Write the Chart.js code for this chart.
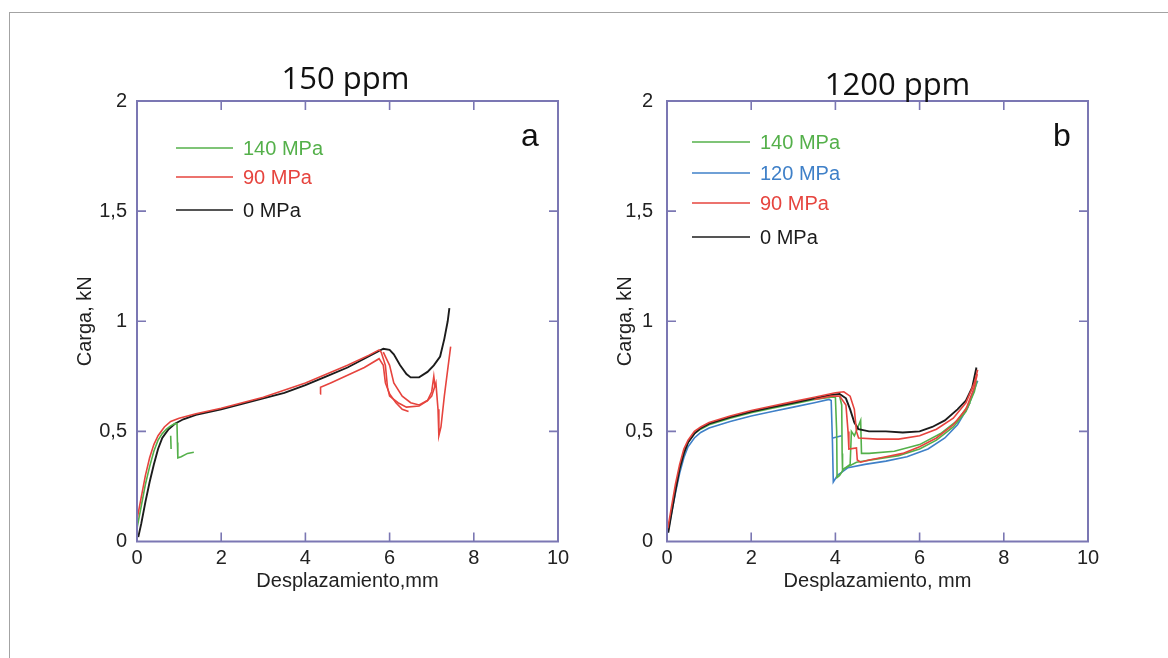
<!DOCTYPE html>
<html>
<head>
<meta charset="utf-8">
<script src="https://cdn.jsdelivr.net/npm/chart.js@4.4.1/dist/chart.umd.min.js"></script>
<style>
html, body { margin: 0; padding: 0; background: #fff; }
body { width: 1168px; height: 658px; position: relative; overflow: hidden; }
.frame { position: absolute; left: 9px; top: 12px; width: 1300px; height: 800px;
         border-top: 1.5px solid #a3a3a3; border-left: 1.5px solid #a3a3a3; }
#boxA { position: absolute; left: 0; top: 0; }
#boxB { position: absolute; left: 584px; top: 0; }
</style>
</head>
<body>
<div class="frame"></div>
<canvas id="boxA" width="584" height="658"></canvas>
<canvas id="boxB" width="584" height="658"></canvas>
<script>
// axis ticks shared by both panels
const xTicks = [0, 2, 4, 6, 8, 10];
const yTicks = [0, 0.5, 1, 1.5, 2];

// ---- panel a : 150 ppm ----  [displacement mm, load kN]
const a140 = [[0.0, 0.06], [0.1, 0.16], [0.2, 0.26], [0.3, 0.34], [0.4, 0.41], [0.5, 0.46], [0.6, 0.49],
  [0.7, 0.51], [0.8, 0.525], [0.9, 0.535], [0.95, 0.535], [0.96, 0.45], [0.97, 0.38], [1.05, 0.385],
  [1.2, 0.40], [1.35, 0.405]];
const a140b = [[0.8, 0.48], [0.81, 0.42]];
const a90 = [[0.0, 0.1], [0.1, 0.2], [0.2, 0.3], [0.3, 0.38], [0.4, 0.44], [0.5, 0.48], [0.65, 0.52],
  [0.8, 0.545], [1.0, 0.56], [1.4, 0.58], [2.0, 0.605], [3.0, 0.655], [4.0, 0.72], [5.0, 0.80],
  [5.5, 0.845], [5.75, 0.87], [5.8, 0.86], [5.9, 0.80], [5.95, 0.70], [6.0, 0.66], [6.2, 0.63],
  [6.4, 0.61], [6.7, 0.615], [6.9, 0.64], [7.0, 0.66], [7.1, 0.72], [7.15, 0.60], [7.17, 0.48],
  [7.22, 0.52], [7.3, 0.66], [7.38, 0.78], [7.45, 0.885]];
const a90b = [[4.35, 0.67], [4.36, 0.70], [4.6, 0.72], [5.0, 0.755], [5.4, 0.79], [5.75, 0.83],
  [5.85, 0.80], [5.9, 0.72], [6.0, 0.67], [6.15, 0.63], [6.3, 0.60], [6.45, 0.59]];
const a90c = [[5.85, 0.86], [6.0, 0.80], [6.1, 0.72], [6.3, 0.66], [6.5, 0.63], [6.7, 0.62],
  [6.9, 0.64], [7.0, 0.68], [7.05, 0.75], [7.08, 0.70]];
const a0 = [[0.03, 0.02], [0.1, 0.08], [0.2, 0.18], [0.3, 0.27], [0.4, 0.35], [0.5, 0.42], [0.6, 0.47],
  [0.75, 0.51], [0.9, 0.535], [1.1, 0.555], [1.4, 0.575], [2.0, 0.60], [2.5, 0.625], [3.0, 0.65],
  [3.5, 0.675], [4.0, 0.71], [4.5, 0.75], [5.0, 0.79], [5.5, 0.84], [5.85, 0.875], [6.0, 0.87],
  [6.1, 0.85], [6.25, 0.80], [6.4, 0.76], [6.5, 0.745], [6.7, 0.745], [6.9, 0.77], [7.05, 0.80],
  [7.2, 0.84], [7.3, 0.92], [7.38, 1.0], [7.42, 1.06]];

// ---- panel b : 1200 ppm ----
const b140 = [[0.02, 0.05], [0.1, 0.13], [0.2, 0.24], [0.3, 0.33], [0.4, 0.40], [0.5, 0.45], [0.65, 0.49],
  [0.8, 0.51], [1.0, 0.53], [1.5, 0.56], [2.0, 0.585], [2.5, 0.605], [3.0, 0.625], [3.5, 0.645],
  [3.9, 0.655], [4.0, 0.655], [4.03, 0.50], [4.04, 0.29], [4.1, 0.30], [4.2, 0.33], [4.5, 0.36],
  [5.0, 0.375], [5.5, 0.39], [6.0, 0.42], [6.4, 0.46], [6.8, 0.52], [7.1, 0.59], [7.3, 0.68], [7.36, 0.73]];
const b140b = [[4.1, 0.66], [4.15, 0.62], [4.16, 0.40], [4.17, 0.325], [4.35, 0.35], [4.38, 0.50],
  [4.45, 0.48], [4.6, 0.55], [4.62, 0.40], [4.8, 0.40], [5.4, 0.41], [6.0, 0.44], [6.5, 0.49],
  [6.9, 0.55], [7.2, 0.63]];
const b120 = [[0.02, 0.04], [0.1, 0.12], [0.2, 0.22], [0.3, 0.31], [0.4, 0.38], [0.5, 0.43], [0.65, 0.47],
  [0.8, 0.495], [1.0, 0.515], [1.5, 0.545], [2.0, 0.57], [2.5, 0.59], [3.0, 0.61], [3.5, 0.63],
  [3.85, 0.645], [3.9, 0.64], [3.93, 0.45], [3.95, 0.27], [4.05, 0.30], [4.3, 0.335], [4.7, 0.35],
  [5.2, 0.365], [5.7, 0.385], [6.2, 0.42], [6.6, 0.47], [6.9, 0.53], [7.15, 0.61], [7.3, 0.69], [7.38, 0.73]];
const b120b = [[3.94, 0.47], [4.15, 0.48]];
const b90 = [[0.02, 0.06], [0.1, 0.15], [0.2, 0.26], [0.3, 0.35], [0.4, 0.42], [0.5, 0.46], [0.65, 0.50],
  [0.8, 0.52], [1.0, 0.54], [1.5, 0.57], [2.0, 0.595], [2.5, 0.615], [3.0, 0.635], [3.5, 0.655],
  [4.0, 0.675], [4.2, 0.68], [4.35, 0.66], [4.45, 0.60], [4.5, 0.50], [4.55, 0.47], [5.0, 0.465],
  [5.5, 0.465], [6.0, 0.48], [6.4, 0.51], [6.8, 0.56], [7.1, 0.63], [7.3, 0.72], [7.38, 0.78]];
const b90b = [[3.5, 0.645], [3.9, 0.66], [4.1, 0.66], [4.25, 0.62], [4.3, 0.50], [4.32, 0.42],
  [4.5, 0.425], [4.52, 0.37], [4.6, 0.36], [4.8, 0.37], [5.2, 0.385], [5.6, 0.40], [6.0, 0.43],
  [6.4, 0.47], [6.8, 0.53], [7.1, 0.60], [7.3, 0.70], [7.37, 0.76]];
const b0 = [[0.03, 0.04], [0.1, 0.12], [0.2, 0.23], [0.3, 0.33], [0.4, 0.40], [0.5, 0.45], [0.65, 0.49],
  [0.8, 0.515], [1.0, 0.535], [1.5, 0.565], [2.0, 0.59], [2.5, 0.61], [3.0, 0.63], [3.5, 0.65],
  [3.9, 0.665], [4.1, 0.67], [4.25, 0.65], [4.35, 0.60], [4.45, 0.54], [4.55, 0.51], [4.8, 0.50],
  [5.2, 0.50], [5.6, 0.495], [6.0, 0.50], [6.3, 0.52], [6.6, 0.55], [6.9, 0.60], [7.1, 0.64],
  [7.25, 0.70], [7.35, 0.79]];

const legendA = ['140 MPa', '90 MPa', '0 MPa'];
const legendB = ['140 MPa', '120 MPa', '90 MPa', '0 MPa'];

const GREEN = '#54b04a', BLUE = '#3f80c8', RED = '#e6443e', BLACK = '#1c1c1c';
const AXIS = '#7b77b3';
const SANS = '"Liberation Sans", Arial, sans-serif';

function line(points, color, width) {
    return {
        data: points.map(p => ({ x: p[0], y: p[1] })),
        showLine: true,
        borderColor: color,
        backgroundColor: color,
        borderWidth: width || 1.6,
        pointRadius: 0,
        tension: 0
    };
}

// box, inward ticks, panel letter, legend and title
const panelPlugin = {
    id: 'panel',
    afterDatasetsDraw(chart, args, o) {
        const { ctx, chartArea: a, scales } = chart;
        ctx.save();
        ctx.strokeStyle = AXIS;
        ctx.lineWidth = 2;
        ctx.strokeRect(a.left, a.top, a.right - a.left, a.bottom - a.top);
        ctx.lineWidth = 1.6;
        ctx.beginPath();
        xTicks.slice(1, -1).forEach(v => {
            const px = scales.x.getPixelForValue(v);
            ctx.moveTo(px, a.bottom); ctx.lineTo(px, a.bottom - 9);
            ctx.moveTo(px, a.top); ctx.lineTo(px, a.top + 9);
        });
        yTicks.slice(1, -1).forEach(v => {
            const py = scales.y.getPixelForValue(v);
            ctx.moveTo(a.left, py); ctx.lineTo(a.left + 9, py);
            ctx.moveTo(a.right, py); ctx.lineTo(a.right - 9, py);
        });
        ctx.stroke();

        // panel letter
        ctx.fillStyle = '#111';
        ctx.font = '32px ' + SANS;
        ctx.textAlign = 'center';
        ctx.textBaseline = 'alphabetic';
        ctx.fillText(o.letter, a.right + o.letterDx, a.top + o.letterDy);

        // legend
        ctx.font = '20px ' + SANS;
        ctx.textAlign = 'left';
        ctx.textBaseline = 'middle';
        o.labels.forEach((lab, i) => {
            const y = a.top + o.rows[i];
            ctx.strokeStyle = o.colors[i];
            ctx.lineWidth = 1.5;
            ctx.beginPath();
            ctx.moveTo(a.left + o.lineX[0], y);
            ctx.lineTo(a.left + o.lineX[1], y);
            ctx.stroke();
            ctx.fillStyle = o.colors[i];
            ctx.fillText(lab, a.left + o.textX, y + 1);
        });

        // heading
        ctx.fillStyle = '#111';
        ctx.font = '31px "Open Sans", "Noto Sans", sans-serif';
        ctx.textAlign = 'center';
        ctx.textBaseline = 'alphabetic';
        ctx.fillText(o.title, (a.left + a.right) / 2 + o.titleDx, o.titleY);
        ctx.restore();
    }
};

function options(p) {
    return {
        responsive: false,
        animation: false,
        layout: { padding: { left: p.padLeft, right: p.padRight, top: 101, bottom: 64.5 } },
        plugins: {
            legend: { display: false },
            tooltip: { enabled: false },
            panel: p.panel
        },
        scales: {
            x: {
                type: 'linear', min: 0, max: 10,
                afterBuildTicks: s => { s.ticks = xTicks.map(v => ({ value: v })); },
                afterFit: s => { s.height = 52; },
                grid: { display: false, drawTicks: false },
                border: { display: false },
                ticks: { padding: 5, color: '#222', font: { family: SANS, size: 20 }, maxRotation: 0 },
                title: { display: true, text: p.xTitle, color: '#222',
                         font: { family: SANS, size: 20 }, padding: { top: 2, bottom: 0 } }
            },
            y: {
                type: 'linear', min: 0, max: 2,
                afterBuildTicks: s => { s.ticks = yTicks.map(v => ({ value: v })); },
                afterFit: s => { s.width = p.yWidth; },
                grid: { display: false, drawTicks: false },
                border: { display: false },
                ticks: { padding: p.yPad, color: '#222', font: { family: SANS, size: 20 },
                         callback: v => String(v).replace('.', ',') },
                title: { display: true, text: 'Carga, kN', color: '#222',
                         font: { family: SANS, size: 20 }, padding: { top: 4, bottom: 4 } }
            }
        }
    };
}

new Chart(document.getElementById('boxA'), {
    type: 'scatter',
    data: {
        datasets: [
            line(a90, RED), line(a90b, RED), line(a90c, RED),
            line(a140, GREEN), line(a140b, GREEN),
            line(a0, BLACK, 1.9)
        ]
    },
    options: options({
        padLeft: 69, yWidth: 68, padRight: 26, yPad: 10,
        xTitle: 'Desplazamiento,mm',
        panel: {
            letter: 'a', letterDx: -28, letterDy: 45,
            labels: legendA, colors: [GREEN, RED, BLACK],
            rows: [47, 76, 109], lineX: [39, 96], textX: 106,
            title: '150 ppm', titleDx: -2, titleY: 89
        }
    }),
    plugins: [panelPlugin]
});

new Chart(document.getElementById('boxB'), {
    type: 'scatter',
    data: {
        datasets: [
            line(b90, RED), line(b90b, RED),
            line(b0, BLACK, 1.9),
            line(b140, GREEN), line(b140b, GREEN),
            line(b120, BLUE), line(b120b, BLUE)
        ]
    },
    options: options({
        padLeft: 25, yWidth: 58, padRight: 80, yPad: 14,
        xTitle: 'Desplazamiento, mm',
        panel: {
            letter: 'b', letterDx: -26, letterDy: 45,
            labels: legendB, colors: [GREEN, BLUE, RED, BLACK],
            rows: [41, 72, 102, 136], lineX: [25, 83], textX: 93,
            title: '1200 ppm', titleDx: 20, titleY: 95
        }
    }),
    plugins: [panelPlugin]
});
</script>
</body>
</html>
